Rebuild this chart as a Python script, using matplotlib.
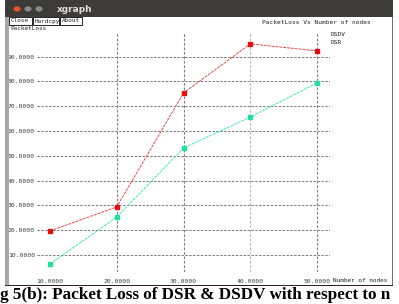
import matplotlib
matplotlib.use("Agg")
import matplotlib.pyplot as plt
from matplotlib.patches import Rectangle, Circle

# data
nodes = [10, 20, 30, 40, 50]
dsdv_loss = [19.7, 29.4, 75.3, 95.1, 92.3]
dsr_loss = [6.4, 25.3, 53.1, 65.6, 79.4]
y_ticks = [10, 20, 30, 40, 50, 60, 70, 80, 90]
x_ticks = [10, 20, 30, 40, 50]

W, H = 399, 304


def fx(x):
    return x / W


def fy(y):
    return 1 - y / H


fig = plt.figure(figsize=(W / 100, H / 100), dpi=100)
fig.patch.set_facecolor("white")

# window chrome
fig.add_artist(Rectangle((fx(5), fy(17)), fx(388), 17 / H, transform=fig.transFigure,
                         facecolor="#3d3c38", edgecolor="none"))
fig.add_artist(Rectangle((fx(5), fy(285)), fx(4), 268 / H, transform=fig.transFigure,
                         facecolor="#a8a8a8", edgecolor="none"))
fig.add_artist(Rectangle((fx(5), fy(286)), fx(388), 1.5 / H, transform=fig.transFigure,
                         facecolor="#3a2020", edgecolor="none"))
fig.add_artist(Rectangle((fx(392), fy(285)), fx(1.2), 268 / H, transform=fig.transFigure,
                         facecolor="#707070", edgecolor="none"))
for cx, col in [(17, "#e2572a"), (28, "#8a8985"), (39, "#8a8985")]:
    fig.add_artist(Circle((fx(cx), fy(9)), 4 / W, transform=fig.transFigure,
                          facecolor=col, edgecolor="#2a2a2a", lw=0.4))
fig.text(fx(57), fy(9), "xgraph", color="#e0e0dc", fontsize=6.5, fontweight="bold",
         va="center", ha="left")

# buttons
for x0, w, lab in [(9, 23, "Close"), (33, 26, "Hardcpy"), (60, 22, "About")]:
    fig.add_artist(Rectangle((fx(x0), fy(25)), fx(w), 8 / H, transform=fig.transFigure,
                             facecolor="white", edgecolor="black", lw=0.6))
    fig.text(fx(x0 + 1.5), fy(21), lab, fontsize=4.3, family="DejaVu Sans Mono",
             va="center", ha="left", color="#202020")
fig.text(fx(10), fy(28.5), "PacketLoss", fontsize=4.3, family="DejaVu Sans Mono",
         va="center", ha="left", color="#202020")
fig.text(fx(262), fy(23), "PacketLoss Vs Number of nodes", fontsize=4.4,
         family="DejaVu Sans Mono", va="center", ha="left", color="#202020")
fig.text(fx(333), fy(280), "Number of nodes", fontsize=4.3,
         family="DejaVu Sans Mono", va="center", ha="left", color="#202020")

# plot area
ax = fig.add_axes([fx(37), fy(272), fx(330 - 37), (272 - 33) / H])
ax.set_xlim(8.05, 51.95)
ax.set_ylim(3.15, 99.5)
for s in ax.spines.values():
    s.set_visible(False)
ax.set_facecolor("none")

for v in y_ticks:
    ax.axhline(v, color="#7a7a7a", lw=0.7, ls=(0, (2.5, 1.5)), zorder=1)
for v in x_ticks[1:]:
    c = "#b8b8b8" if v == 40 else "#808080"
    ax.axvline(v, color=c, lw=0.8, ls=(0, (2.5, 1.5)), zorder=1)

ax.plot(nodes, dsdv_loss, color="#e84848", lw=0.7, ls=(0, (3, 1)), marker="s",
        ms=2.6, mfc="#e01010", mec="#e01010", zorder=3, label="DSDV")
ax.plot(nodes, dsr_loss, color="#40e8b8", lw=0.7, ls=(0, (3, 1)), marker="s",
        ms=2.6, mfc="#20e0a0", mec="#20e0a0", zorder=3, label="DSR")

ax.set_yticks(y_ticks)
ax.set_yticklabels([f"{v:.4f}" for v in y_ticks], fontsize=4.6,
                   family="DejaVu Sans Mono", color="#404040")
ax.set_xticks(x_ticks)
ax.set_xticklabels([f"{v:.4f}" for v in x_ticks], fontsize=4.6,
                   family="DejaVu Sans Mono", color="#404040")
ax.tick_params(length=0, pad=1.5)
ax.tick_params(axis="x", pad=5)

fig.text(fx(331), fy(34), "DSDV", fontsize=4.4, family="DejaVu Sans Mono",
         va="center", ha="left", color="#202020")
fig.text(fx(331), fy(43), "DSR", fontsize=4.4, family="DejaVu Sans Mono",
         va="center", ha="left", color="#202020")

# caption below the screenshot, as much of it as the source shows
fig.text(fx(0.5), fy(299),
         "g 5(b): Packet Loss of DSR & DSDV with respect to n",
         fontsize=12.3, fontweight="bold", family="Liberation Serif",
         va="baseline", ha="left", color="black")

fig.savefig("out.png", dpi=100)
